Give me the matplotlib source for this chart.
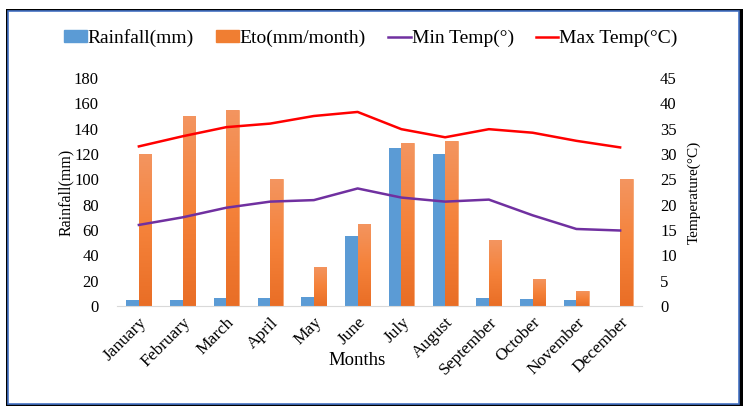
import numpy as np
import matplotlib
matplotlib.use("Agg")
import matplotlib.pyplot as plt
from matplotlib.patches import Rectangle, Patch
from matplotlib.lines import Line2D
from matplotlib.colors import LinearSegmentedColormap

plt.rcParams['font.family'] = ['Liberation Serif', 'DejaVu Serif']

months = ["January", "February", "March", "April", "May", "June", "July",
          "August", "September", "October", "November", "December"]
rainfall = [5, 5, 6, 6, 7, 55, 125, 120, 6, 5.5, 5, 0]
eto = [120, 150, 155, 100, 31, 65, 129, 130, 52, 21.5, 12, 100]
min_temp = [16.0, 17.5, 19.4, 20.6, 20.9, 23.2, 21.4, 20.6, 21.0, 17.9, 15.2, 14.9]
max_temp = [31.5, 33.5, 35.3, 36.0, 37.5, 38.3, 34.9, 33.3, 34.9, 34.2, 32.6, 31.3]

c_rain = "#5B9BD5"
c_eto = "#F07E32"
c_min = "#7030A0"
c_max = "#FF0000"

fig = plt.figure(figsize=(7.56, 4.15), dpi=100)

# frame with black shadow and blue border
W, H = 756.0, 415.0
fig.patches.append(Rectangle((6 / W, 1 - 406 / H), 737 / W, 397 / H,
                             transform=fig.transFigure, facecolor="black",
                             edgecolor="none", zorder=-10))
fig.patches.append(Rectangle((7.5 / W, 1 - 403.5 / H), 731 / W, 392.5 / H,
                             transform=fig.transFigure, facecolor="white",
                             edgecolor="#4472C4", linewidth=1.2, zorder=-9))

ax = fig.add_axes([117 / W, 1 - 306 / H, 525 / W, 228 / H])
ax.patch.set_alpha(0)
x = np.arange(len(months))
bw = 0.286

ax.bar(x - bw / 2, rainfall, bw, color=c_rain, zorder=2)
obars = ax.bar(x + bw / 2, eto, bw, color=c_eto, edgecolor="#F6A572",
               linewidth=0.6, zorder=2)

# gradient on the Eto bars, light on top
grad = LinearSegmentedColormap.from_list("g", ["#E96E26", "#F5823A", "#F39560"])
for b in obars:
    bx, by = b.get_x(), b.get_y()
    bwid, bh = b.get_width(), b.get_height()
    if bh <= 0:
        continue
    im = ax.imshow(np.linspace(0, 1, 100).reshape(-1, 1), cmap=grad,
                   origin="lower", aspect="auto",
                   extent=[bx, bx + bwid, by, by + bh], zorder=2.5)
    im.set_clip_path(b)

ax.set_xlim(-0.5, 11.5)
ax.set_ylim(0, 180)
ax.set_yticks(range(0, 181, 20))
ax.set_xticks(x)
ax.set_xticklabels(months, rotation=45, ha="right", va="top",
                   rotation_mode="anchor", fontsize=12.5)
ax.tick_params(axis="both", length=0)
ax.tick_params(axis="y", pad=13, labelsize=12)
ax.tick_params(axis="x", pad=6)
for s in ["top", "right", "left"]:
    ax.spines[s].set_visible(False)
ax.spines["bottom"].set_color("#D9D9D9")
ax.set_ylabel("Rainfall(mm)", fontsize=11.5)
ax.yaxis.set_label_coords(-0.082, 0.5)
ax.set_xlabel("Months", fontsize=13.5)
ax.xaxis.set_label_coords(0.457, -0.24)
ax.xaxis.label.set_va("center")

ax2 = ax.twinx()
ax2.plot(x, min_temp, color=c_min, linewidth=1.8, zorder=3)
ax2.plot(x, max_temp, color=c_max, linewidth=1.8, zorder=3)
ax2.set_ylim(0, 45)
ax2.set_yticks(range(0, 46, 5))
ax2.tick_params(axis="y", length=0, labelsize=12, pad=13)
for s in ["top", "right", "left", "bottom"]:
    ax2.spines[s].set_visible(False)
ax2.set_ylabel("Temperature(°C)", fontsize=11)
ax2.yaxis.set_label_coords(1.087, 0.5)

handles = [Patch(color=c_rain), Patch(color=c_eto),
           Line2D([], [], color=c_min, linewidth=1.8),
           Line2D([], [], color=c_max, linewidth=1.8)]
labels = ["Rainfall(mm)", "Eto(mm/month)", "Min Temp(°)", "Max Temp(°C)"]
fig.legend(handles, labels, loc="center", bbox_to_anchor=(371 / W, 1 - 38 / H),
           ncol=4, frameon=False, fontsize=14, handlelength=1.15,
           handletextpad=0.05, columnspacing=1.15, handleheight=0.5)

fig.savefig("out.png", dpi=100)
